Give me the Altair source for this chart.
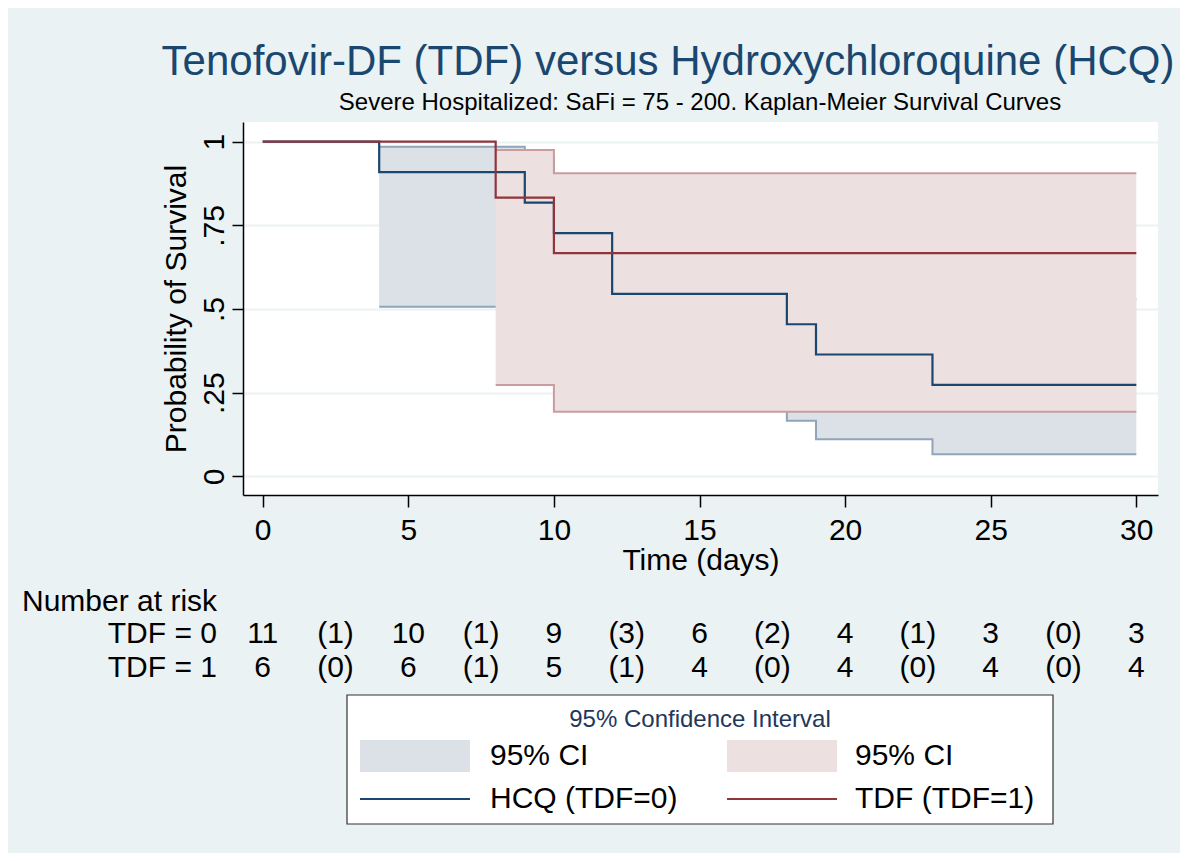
import altair as alt
import pandas as pd

# ---------------- data ----------------
hcq_t = [0, 4, 9, 10, 12, 18, 19, 23, 30]
hcq_s = [1.0, 0.909, 0.818, 0.727, 0.545, 0.4545, 0.364, 0.273, 0.273]
tdf_t = [0, 8, 10, 30]
tdf_s = [1.0, 0.833, 0.667, 0.667]

hcq_ci_t = [4, 9, 10, 12, 18, 19, 23, 30]
hcq_ci_lo = [0.507, 0.45, 0.37, 0.23, 0.166, 0.111, 0.066, 0.066]
hcq_ci_hi = [0.985, 0.95, 0.90, 0.78, 0.70, 0.62, 0.53, 0.53]
tdf_ci_t = [8, 10, 30]
tdf_ci_lo = [0.273, 0.193, 0.193]
tdf_ci_hi = [0.975, 0.906, 0.906]

risk_t = [0, 2.5, 5, 7.5, 10, 12.5, 15, 17.5, 20, 22.5, 25, 27.5, 30]
risk_tdf0 = ["11", "(1)", "10", "(1)", "9", "(3)", "6", "(2)", "4", "(1)", "3", "(0)", "3"]
risk_tdf1 = ["6", "(0)", "6", "(1)", "5", "(1)", "4", "(0)", "4", "(0)", "4", "(0)", "4"]

y_ticks = [0, 0.25, 0.5, 0.75, 1]
x_ticks = [0, 5, 10, 15, 20, 25, 30]

title_text = "Tenofovir-DF (TDF) versus Hydroxychloroquine (HCQ)"
subtitle_text = "Severe Hospitalized: SaFi = 75 - 200. Kaplan-Meier Survival Curves"

# ---------------- styling ----------------
FONT = "Liberation Sans"
BG = "#eaf2f3"
NAVY = "#1a476f"
MAROON = "#90353b"
BLUE_FILL = "#dce1e8"
BLUE_EDGE = "#90a4ba"
RED_FILL = "#ede0e1"
RED_EDGE = "#c99ca0"
FS = 30

W, H = 915, 373
PAD_L, PAD_T = 235, 114
TOTAL_W, TOTAL_H = 1172, 845

xscale = alt.Scale(domain=[-0.677, 30.745], nice=False, zero=False)
yscale = alt.Scale(domain=[-0.0559, 1.0589], nice=False, zero=False)

xaxis = alt.Axis(
    title="Time (days)", values=x_ticks, grid=False, tickSize=12, tickColor="black",
    tickWidth=1.5, domainColor="black", domainWidth=1.5, labelFontSize=FS,
    labelColor="black", labelPadding=8, titleFontSize=FS, titleFontWeight="normal",
    titleColor="black", titlePadding=0, labelFont=FONT, titleFont=FONT,
)
yaxis = alt.Axis(
    title="Probability of Survival", values=y_ticks, grid=True, gridColor=BG,
    gridWidth=2, tickSize=11, tickColor="black", tickWidth=1.5,
    domainColor="black", domainWidth=1.5, labelFontSize=FS, labelColor="black",
    labelAngle=-90, labelAlign="center", labelBaseline="bottom", labelPadding=3,
    labelExpr="datum.value==0?'0':datum.value==1?'1':slice(format(datum.value,'.2~f'),1)",
    titleFontSize=FS, titleFontWeight="normal", titleColor="black", titlePadding=8,
    labelFont=FONT, titleFont=FONT,
)


def X(f):
    return alt.X(f"{f}:Q", scale=xscale, axis=xaxis)


def Y(f):
    return alt.Y(f"{f}:Q", scale=yscale, axis=yaxis)


hcq = pd.DataFrame({"t": hcq_t, "s": hcq_s})
tdf = pd.DataFrame({"t": tdf_t, "s": tdf_s})
hcq_ci = pd.DataFrame({"t": hcq_ci_t, "lo": hcq_ci_lo, "hi": hcq_ci_hi})
tdf_ci = pd.DataFrame({"t": tdf_ci_t, "lo": tdf_ci_lo, "hi": tdf_ci_hi})

layers = []
# CI bands
layers.append(alt.Chart(hcq_ci).mark_area(interpolate="step-after", color=BLUE_FILL, opacity=1)
              .encode(x=X("t"), y=Y("lo"), y2="hi:Q"))
layers.append(alt.Chart(hcq_ci).mark_line(interpolate="step-after", color=BLUE_EDGE, strokeWidth=2)
              .encode(x=X("t"), y=Y("lo")))
layers.append(alt.Chart(hcq_ci).mark_line(interpolate="step-after", color=BLUE_EDGE, strokeWidth=2)
              .encode(x=X("t"), y=Y("hi")))
layers.append(alt.Chart(tdf_ci).mark_area(interpolate="step-after", color=RED_FILL, opacity=1)
              .encode(x=X("t"), y=Y("lo"), y2="hi:Q"))
layers.append(alt.Chart(tdf_ci).mark_line(interpolate="step-after", color=RED_EDGE, strokeWidth=2)
              .encode(x=X("t"), y=Y("lo")))
layers.append(alt.Chart(tdf_ci).mark_line(interpolate="step-after", color=RED_EDGE, strokeWidth=2)
              .encode(x=X("t"), y=Y("hi")))
# survival curves
layers.append(alt.Chart(hcq).mark_line(interpolate="step-after", color=NAVY, strokeWidth=2.2)
              .encode(x=X("t"), y=Y("s")))
layers.append(alt.Chart(tdf).mark_line(interpolate="step-after", color=MAROON, strokeWidth=2.2)
              .encode(x=X("t"), y=Y("s")))


def txt(s, x, y, size, align="left", color="black"):
    return alt.Chart(pd.DataFrame({"label": [s]})).mark_text(
        align=align, baseline="middle", fontSize=size, font=FONT, color=color
    ).encode(x=alt.value(x), y=alt.value(y), text="label:N")


# titles
layers.append(txt(title_text, 425, -60, 42, "center", NAVY))
layers.append(txt(subtitle_text, 457, -19, 24, "center"))

# number at risk table
layers.append(txt("Number at risk", -221, 480, FS))
layers.append(txt("TDF = 0", -26, 512, FS, "right"))
layers.append(txt("TDF = 1", -26, 546, FS, "right"))
for row, yy in ((risk_tdf0, 512), (risk_tdf1, 546)):
    df = pd.DataFrame({"t": risk_t, "label": row})
    layers.append(alt.Chart(df).mark_text(fontSize=FS, font=FONT, color="black", baseline="middle")
                  .encode(x=X("t"), y=alt.value(yy), text="label:N"))

# legend box
box = pd.DataFrame({"label": ["box"]})
layers.append(alt.Chart(box).mark_rect(fill="white", stroke="#333333", strokeWidth=1.2)
              .encode(x=alt.value(104), x2=alt.value(810), y=alt.value(573), y2=alt.value(702)))
layers.append(txt("95% Confidence Interval", 457, 598, 24, "center", "#22385a"))
layers.append(alt.Chart(box).mark_rect(fill=BLUE_FILL)
              .encode(x=alt.value(117), x2=alt.value(227), y=alt.value(618), y2=alt.value(650)))
layers.append(alt.Chart(box).mark_rect(fill=RED_FILL)
              .encode(x=alt.value(484), x2=alt.value(594), y=alt.value(618), y2=alt.value(650)))
layers.append(alt.Chart(box).mark_rule(color=NAVY, strokeWidth=2.2)
              .encode(x=alt.value(117), x2=alt.value(227), y=alt.value(677)))
layers.append(alt.Chart(box).mark_rule(color=MAROON, strokeWidth=2.2)
              .encode(x=alt.value(484), x2=alt.value(594), y=alt.value(677)))
layers.append(txt("95% CI", 247, 634, FS))
layers.append(txt("95% CI", 612, 634, FS))
layers.append(txt("HCQ (TDF=0)", 247, 677, FS))
layers.append(txt("TDF (TDF=1)", 612, 677, FS))

chart = alt.layer(*layers).properties(
    width=W, height=H, autosize="none",
    padding={"left": PAD_L, "top": PAD_T, "right": TOTAL_W - PAD_L - W, "bottom": TOTAL_H - PAD_T - H},
).configure(background=BG).configure_view(fill="white", strokeWidth=0)

chart.save("out.html", embed_options={"renderer": "svg", "actions": False})
